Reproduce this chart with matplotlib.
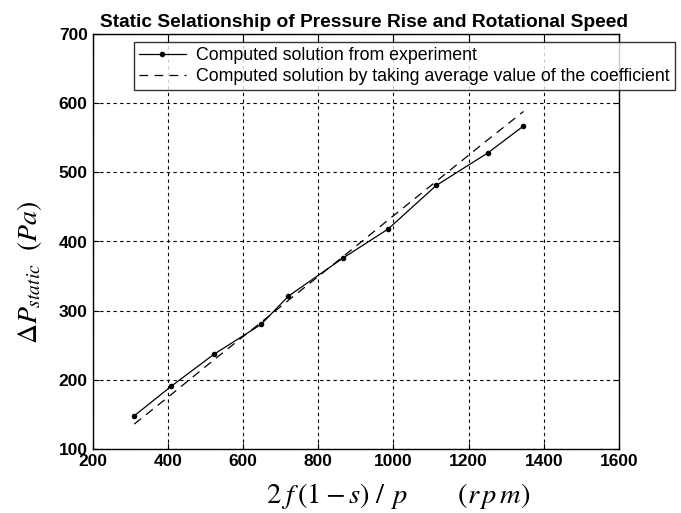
import matplotlib
matplotlib.use("Agg")
import matplotlib.pyplot as plt

# valeurs
vitesse = [311, 410, 523, 648, 721, 866, 986, 1114, 1251, 1346]
dp_exp = [148, 191, 237, 280, 321, 376, 418, 481, 528, 567]
dp_moy = [136, 179, 229, 283, 315, 378, 431, 487, 547, 588]

xticks = [200, 400, 600, 800, 1000, 1200, 1400, 1600]
yticks = [100, 200, 300, 400, 500, 600, 700]

plt.rcParams['font.family'] = ['Liberation Sans', 'DejaVu Sans']
plt.rcParams['mathtext.fontset'] = 'stix'

fig = plt.figure(figsize=(6.81, 5.13), dpi=100)
ax = fig.add_axes([92.5/681, 1-449/513, (619-92.5)/681, (449-34)/513])

ax.plot(vitesse, dp_exp, '-', color='black', lw=0.9, marker='.', ms=6,
        label="Computed solution from experiment")
ax.plot(vitesse, dp_moy, color='black', lw=0.9, linestyle=(0, (7, 5)),
        label="Computed solution by taking average value of the coefficient")

ax.set_xlim(200, 1600)
ax.set_ylim(100, 700)
ax.set_xticks(xticks)
ax.set_yticks(yticks)
ax.grid(True, color='black', linestyle=(0, (3, 3)), lw=0.8)
ax.tick_params(direction='in', top=True, right=True, labelsize=12.5, length=4)
for lab in ax.get_xticklabels() + ax.get_yticklabels():
    lab.set_fontweight('bold')
for s in ax.spines.values():
    s.set_linewidth(1.0)

ax.set_title("Static Selationship of Pressure Rise and Rotational Speed",
             fontsize=13.8, fontweight='bold', pad=5, x=0.515)
ax.set_xlabel(r"$2\;f\,(1-s)\;/\;\,p\qquad\ \,(r\,p\,m)$", fontsize=20.5)
ax.set_ylabel(r"$\Delta P_{static}\ \ (Pa)$", fontsize=20)
ax.xaxis.set_label_coords((398-92.5)/526.5, -(496-449)/415, transform=ax.transAxes)
ax.yaxis.set_label_coords(-(92.5-30)/526.5, (449-272)/415, transform=ax.transAxes)
ax.xaxis.label.set_va('center')
ax.yaxis.label.set_va('center')

leg = fig.legend(loc='upper left', bbox_to_anchor=(134/681, 1-42/513),
                 fontsize=12.8, frameon=True, fancybox=False, edgecolor='black',
                 handlelength=2.6, borderpad=0.3, labelspacing=0.2,
                 handletextpad=0.6, borderaxespad=0)
leg.get_frame().set_linewidth(1.0)

fig.savefig("out.png", dpi=100)
